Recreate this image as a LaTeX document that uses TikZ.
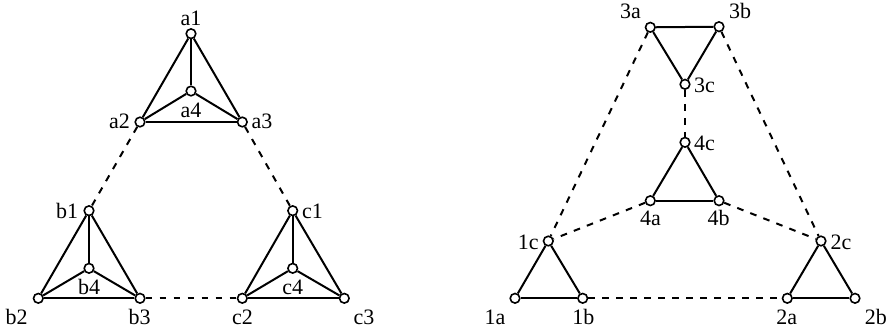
\documentclass[tikz,border=0pt]{standalone}
\usepackage{fontspec}
\setmainfont{Liberation Serif}
\begin{document}
\begin{tikzpicture}[x=0.75pt,y=-0.75pt,
  vtx/.style={circle,draw,fill=white,line width=1.2pt,inner sep=0pt,minimum size=7.2pt},
  lbl/.style={anchor=base,inner sep=0pt,font=\fontsize{16.5}{19}\selectfont},
  edge/.style={line width=1.5pt},
  dedge/.style={line width=1.5pt,dash pattern=on 5pt off 5.5pt}]
\useasboundingbox (0,0) rectangle (892,333);
% left graph vertices
\node[vtx] (a1) at (191,33.7) {};
\node[vtx] (a4) at (191,91) {};
\node[vtx] (a2) at (140,122) {};
\node[vtx] (a3) at (242.3,122) {};
\node[vtx] (b1) at (89,210.7) {};
\node[vtx] (b4) at (89,268.3) {};
\node[vtx] (b2) at (38.3,298.3) {};
\node[vtx] (b3) at (140,298.3) {};
\node[vtx] (c1) at (292.7,210.7) {};
\node[vtx] (c4) at (292.7,268.3) {};
\node[vtx] (c2) at (242.3,298.3) {};
\node[vtx] (c3) at (344.3,298.3) {};
% labels
\node[lbl] (la1) at (191,25) {a1};
\node[lbl] (la4) at (191,117.3) {a4};
\node[lbl] (la2) at (119.5,128.3) {a2};
\node[lbl] (la3) at (262,128.3) {a3};
\node[lbl] (lb1) at (67,218.3) {b1};
\node[lbl] (lb4) at (89,294) {b4};
\node[lbl] (lb2) at (16.7,324) {b2};
\node[lbl] (lb3) at (139.5,324) {b3};
\node[lbl] (lc1) at (312.5,218.3) {c1};
\node[lbl] (lc4) at (292.8,294) {c4};
\node[lbl] (lc2) at (242.5,324) {c2};
\node[lbl] (lc3) at (364,324) {c3};
% edges
\foreach \p in {a,b,c}{
  \draw[edge] (\p1) -- (\p2);
  \draw[edge] (\p1) -- (\p3);
  \draw[edge] (\p2) -- (\p3);
  \draw[edge] (\p1) -- (\p4);
  \draw[edge] (\p2) -- (\p4);
  \draw[edge] (\p3) -- (\p4);
}
\draw[dedge] (a2) -- (b1);
\draw[dedge] (a3) -- (c1);
\draw[dedge] (b3) -- (c2);
% right graph vertices
\node[vtx] (v3a) at (650.3,27.3) {};
\node[vtx] (v3b) at (719,26.7) {};
\node[vtx] (v3c) at (685,84.3) {};
\node[vtx] (v4c) at (685,142.3) {};
\node[vtx] (v4a) at (650.3,200.7) {};
\node[vtx] (v4b) at (719,200.7) {};
\node[vtx] (v1c) at (548.3,241) {};
\node[vtx] (v1a) at (515,298.3) {};
\node[vtx] (v1b) at (582.7,298.3) {};
\node[vtx] (v2c) at (821,241) {};
\node[vtx] (v2a) at (787.3,298.3) {};
\node[vtx] (v2b) at (855,298.3) {};
% labels
\node[lbl] (l3a) at (630.5,18.3) {3a};
\node[lbl] (l3b) at (740,18.3) {3b};
\node[lbl] (l3c) at (704.5,92.7) {3c};
\node[lbl] (l4c) at (704.5,150.7) {4c};
\node[lbl] (l4a) at (650.5,225) {4a};
\node[lbl] (l4b) at (718.7,225) {4b};
\node[lbl] (l1c) at (528.3,249) {1c};
\node[lbl] (l2c) at (841,249) {2c};
\node[lbl] (l1a) at (495,324.3) {1a};
\node[lbl] (l1b) at (583.3,324.3) {1b};
\node[lbl] (l2a) at (786.7,324.3) {2a};
\node[lbl] (l2b) at (875.8,324.3) {2b};
% edges
\foreach \p in {1,2,3,4}{
  \draw[edge] (v\p a) -- (v\p b);
  \draw[edge] (v\p a) -- (v\p c);
  \draw[edge] (v\p b) -- (v\p c);
}
\draw[dedge] (v3a) -- (v1c);
\draw[dedge] (v3b) -- (v2c);
\draw[dedge] (v3c) -- (v4c);
\draw[dedge] (v4a) -- (v1c);
\draw[dedge] (v4b) -- (v2c);
\draw[dedge] (v1b) -- (v2a);
\end{tikzpicture}
\end{document}
